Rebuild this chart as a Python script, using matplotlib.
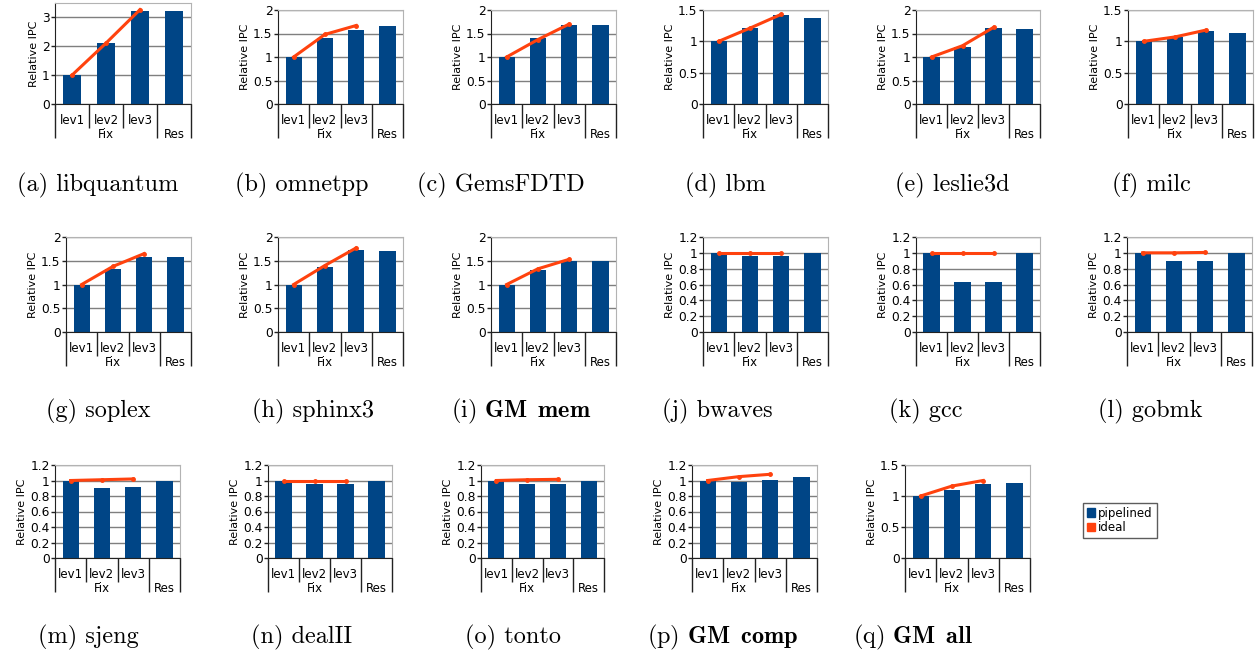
import numpy as np
import matplotlib
matplotlib.use("Agg")
import matplotlib.pyplot as plt
import matplotlib.transforms as mtransforms
from matplotlib.patches import Patch
from matplotlib.ticker import FuncFormatter

plt.rcParams['mathtext.fontset'] = 'cm'

# sub-figure tags and benchmark names
tags = ['(a)', '(b)', '(c)', '(d)', '(e)', '(f)', '(g)', '(h)', '(i)',
        '(j)', '(k)', '(l)', '(m)', '(n)', '(o)', '(p)', '(q)']
names = ['libquantum', 'omnetpp', 'GemsFDTD', 'lbm', 'leslie3d', 'milc',
         'soplex', 'sphinx3', 'GM mem', 'bwaves', 'gcc', 'gobmk',
         'sjeng', 'dealII', 'tonto', 'GM comp', 'GM all']
bold_names = ['GM mem', 'GM comp', 'GM all']

level1 = ['lev1', 'lev2', 'lev3', '']
level2 = ['Fix', 'Res']
level2_span = [(0, 2), (3, 3)]

# relative IPC, pipelined (lev1, lev2, lev3, Res)
pipelined = [
    [1.00, 2.10, 3.21, 3.21],
    [1.00, 1.40, 1.57, 1.65],
    [1.00, 1.40, 1.69, 1.69],
    [1.00, 1.21, 1.42, 1.37],
    [1.00, 1.22, 1.61, 1.59],
    [1.00, 1.07, 1.16, 1.14],
    [1.00, 1.33, 1.58, 1.58],
    [1.00, 1.37, 1.73, 1.71],
    [1.00, 1.31, 1.50, 1.50],
    [1.00, 0.96, 0.96, 1.00],
    [1.00, 0.63, 0.63, 1.00],
    [1.00, 0.90, 0.90, 1.00],
    [1.00, 0.90, 0.92, 1.00],
    [1.00, 0.955, 0.955, 1.00],
    [1.00, 0.955, 0.955, 1.00],
    [1.00, 0.98, 1.01, 1.047],
    [1.00, 1.10, 1.195, 1.21],
]
# relative IPC, ideal (lev1, lev2, lev3)
ideal = [
    [1.00, 2.11, 3.27],
    [1.00, 1.48, 1.67],
    [1.00, 1.37, 1.70],
    [1.00, 1.21, 1.43],
    [1.00, 1.24, 1.63],
    [1.00, 1.07, 1.18],
    [1.00, 1.38, 1.65],
    [1.00, 1.40, 1.77],
    [1.00, 1.33, 1.53],
    [1.00, 1.00, 1.00],
    [1.00, 1.00, 1.00],
    [1.00, 1.00, 1.005],
    [1.00, 1.01, 1.02],
    [1.00, 1.00, 1.00],
    [1.00, 1.01, 1.015],
    [1.00, 1.05, 1.08],
    [1.00, 1.16, 1.25],
]
y_max = [3.5, 2, 2, 1.5, 2, 1.5, 2, 2, 2, 1.2, 1.2, 1.2, 1.2, 1.2, 1.2, 1.2, 1.5]
y_step = [1, .5, .5, .5, .5, .5, .5, .5, .5, .2, .2, .2, .2, .2, .2, .2, .5]

# layout in pixels: (left, right, top, bottom) of each plot area
W, H = 1258, 656
boxes = [
    (55, 191, 3, 104), (278, 403, 10, 104), (491, 616, 10, 104),
    (703, 828, 10, 104), (916, 1040, 10, 104), (1128, 1253, 10, 104),
    (66, 191, 237, 332), (278, 403, 237, 332), (491, 616, 237, 332),
    (703, 828, 237, 332), (916, 1040, 237, 332), (1127, 1252, 237, 332),
    (55, 180, 465, 558), (268, 392, 465, 558), (481, 604, 465, 558),
    (692, 817, 465, 558), (905, 1030, 465, 558),
]
cap_x = [98, 302, 501, 725, 952, 1151, 98, 313, 521, 717, 926, 1150,
         88, 302, 513, 723, 913]
cap_y = [191] * 6 + [417] * 6 + [643] * 5

BLUE = '#004586'
RED = '#ff420e'
PX = 72 / 100  # points per pixel

fig = plt.figure(figsize=(W / 100, H / 100), dpi=100)

for i in range(len(names)):
    l, r, t, b = boxes[i]
    ax = fig.add_axes([l / W, 1 - b / H, (r - l) / W, (b - t) / H])
    x = np.arange(len(level1))
    ax.bar(x, pipelined[i], width=0.52, color=BLUE, zorder=2)
    ax.plot(x[:3], ideal[i], color=RED, lw=2.2, marker='o', ms=2.5,
            zorder=3, clip_on=False)
    ax.set_xlim(-0.5, 3.5)
    ax.set_ylim(0, y_max[i])
    ax.set_yticks(np.arange(0, y_max[i] + 1e-9, y_step[i]))
    ax.yaxis.set_major_formatter(FuncFormatter(lambda v, p: '%g' % round(v, 2)))
    ax.yaxis.grid(True, color='#7f7f7f', lw=1)
    ax.set_axisbelow(True)

    # category separators drawn as ticks
    ax.set_xticks([-0.5, 2.5, 3.5])
    ax.set_xticks([0.5, 1.5], minor=True)
    ax.tick_params(axis='x', which='major', length=34 * PX, width=1,
                   color='#222222', labelbottom=False)
    ax.tick_params(axis='x', which='minor', length=24 * PX, width=1,
                   color='#222222', labelbottom=False)
    ax.tick_params(axis='y', length=4 * PX, width=1, pad=1, labelsize=8.8,
                   color='#222222')
    ax.spines['left'].set_color('#222222')
    ax.spines['bottom'].set_color('#222222')
    ax.spines['top'].set_color('#b3b3b3')
    ax.spines['right'].set_color('#b3b3b3')
    ax.set_ylabel('Relative IPC', fontsize=8, labelpad=2)

    trans = mtransforms.blended_transform_factory(ax.transData, ax.transAxes)
    t1 = mtransforms.offset_copy(trans, y=-17, units='dots')
    t2 = mtransforms.offset_copy(trans, y=-31, units='dots')
    for j, s in enumerate(level1):
        ax.text(j, 0, s, transform=t1, ha='center', va='center', fontsize=8.5)
    for s, (a, c) in zip(level2, level2_span):
        ax.text((a + c) / 2, 0, s, transform=t2, ha='center', va='center',
                fontsize=8.5)

    if names[i] in bold_names:
        cap = tags[i] + r' $\mathbf{' + names[i].replace(' ', r'\ \,') + '}$'
    else:
        cap = tags[i] + ' ' + names[i]
    fig.text(cap_x[i] / W, 1 - cap_y[i] / H, cap, family='cmr10',
             fontsize=17.5, ha='center', va='baseline')

handles = [Patch(color=BLUE, label='pipelined'), Patch(color=RED, label='ideal')]
leg = fig.legend(handles=handles, loc='upper left',
                 bbox_to_anchor=(1083 / W, 1 - 503 / H), fontsize=8.5,
                 frameon=True, fancybox=False, edgecolor='#333333',
                 handlelength=0.7, handleheight=0.7, handletextpad=0.3,
                 borderpad=0.3, labelspacing=0.15, borderaxespad=0)
leg.get_frame().set_linewidth(1)

fig.savefig('out.png', dpi=100)
